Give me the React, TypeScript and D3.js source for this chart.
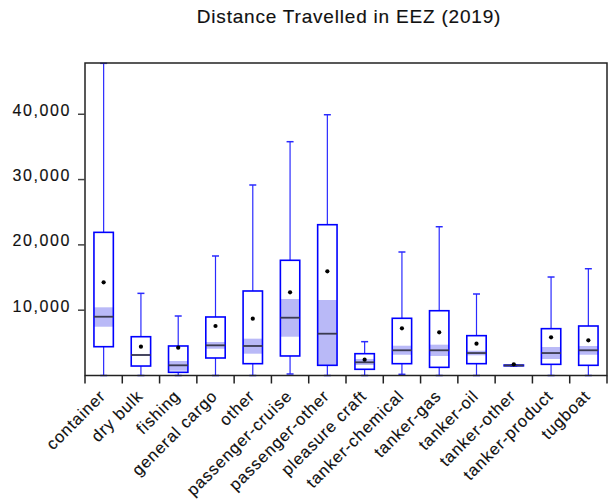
import React from "react";
import * as d3 from "d3";

// box plot stats (distance, EEZ 2019)
const categories = [
  "container", "dry bulk", "fishing", "general cargo", "other",
  "passenger-cruise", "passenger-other", "pleasure craft", "tanker-chemical",
  "tanker-gas", "tanker-oil", "tanker-other", "tanker-product", "tugboat",
];
const whiskerLow = [0, 0, 0, 0, 0, 230, 0, 0, 180, 0, 0, 1450, 0, 0];
const q1 = [4410, 1450, 490, 2680, 1810, 2990, 1560, 950, 1810, 1250, 1810, 1480, 1710, 1560];
const notchLow = [7470, 3000, 735, 4100, 3340, 5940, 1450, 1610, 3180, 2990, 3090, 1500, 2530, 3180];
const median = [9000, 3140, 1560, 4620, 4520, 8850, 6400, 2020, 3860, 3860, 3440, 1540, 3440, 3860];
const notchHigh = [10440, 3300, 2220, 5130, 5640, 11710, 11560, 2530, 4560, 4720, 3800, 1580, 4360, 4520];
const q3 = [21920, 5940, 4520, 8960, 12940, 17640, 23090, 3340, 8760, 9920, 6100, 1600, 7170, 7580];
const whiskerHigh = [47800, 12580, 9110, 18300, 29170, 35800, 39930, 5180, 18910, 22780, 12480, 1650, 15080, 16350];
const means = [14270, 4410, 4260, 7580, 8700, 12740, 15950, 2420, 7230, 6610, 4870, 1710, 5850, 5390];
const yTicks = [10000, 20000, 30000, 40000];

const W = 613, H = 499;
const left = 85, right = 607, top = 63, bottom = 375.5;

export default function App() {
  const x = d3.scaleBand().domain(categories).range([left, right]);
  const y = d3.scaleLinear().domain([0, 47850]).range([bottom, top]);
  const fmt = d3.format(",");
  const bw = x.bandwidth();
  const boxW = bw * 0.52;
  const capW = 7;
  const font = "'Liberation Sans', Arial, sans-serif";
  const ink = { fill: "#111", stroke: "#111", strokeWidth: 0.15 };

  return (
    <svg width={W} height={H} style={{ position: "absolute", left: 0, top: 0 }}
      fontFamily={font}>
      <rect width={W} height={H} fill="#fff" />
      <text x={349} y={23} textAnchor="middle" fontSize={19} letterSpacing={0.8} {...ink}>
        Distance Travelled in EEZ (2019)
      </text>

      {categories.map((c, i) => {
        const cx = x(c)! + bw / 2;
        const x0 = cx - boxW / 2;
        return (
          <g key={c}>
            {/* whiskers */}
            <line x1={cx} x2={cx} y1={y(whiskerHigh[i])} y2={y(q3[i])} stroke="#2a2aff" strokeWidth={1.2} />
            <line x1={cx} x2={cx} y1={y(q1[i])} y2={y(whiskerLow[i])} stroke="#2a2aff" strokeWidth={1.2} />
            <line x1={cx - capW / 2} x2={cx + capW / 2} y1={y(whiskerHigh[i])} y2={y(whiskerHigh[i])} stroke="#2a2aff" strokeWidth={1.5} />
            <line x1={cx - capW / 2} x2={cx + capW / 2} y1={y(whiskerLow[i])} y2={y(whiskerLow[i])} stroke="#2a2aff" strokeWidth={1.5} />
            {/* box */}
            <rect x={x0} width={boxW} y={y(q3[i])} height={y(q1[i]) - y(q3[i])} fill="#fff" />
            <rect x={x0} width={boxW} y={y(notchHigh[i])} height={y(notchLow[i]) - y(notchHigh[i])} fill="#b9b9f7" />
            <rect x={x0} width={boxW} y={y(q3[i])} height={y(q1[i]) - y(q3[i])} fill="none" stroke="#0000ff" strokeWidth={1.6} />
            <line x1={x0} x2={x0 + boxW} y1={y(median[i])} y2={y(median[i])} stroke="#3a3a50" strokeWidth={1.8} />
            <circle cx={cx} cy={y(means[i])} r={2.1} fill="#000" />
          </g>
        );
      })}

      {/* frame */}
      <rect x={left} y={top} width={right - left} height={bottom - top} fill="none" stroke="#222" strokeWidth={1.5} />

      {/* y axis */}
      {yTicks.map((t) => (
        <g key={t}>
          <line x1={left - 7} x2={left} y1={y(t)} y2={y(t)} stroke="#444" strokeWidth={1.5} />
          <text x={71} y={y(t) + 1.5} textAnchor="end" fontSize={16} letterSpacing={1.6} {...ink}>
            {fmt(t)}
          </text>
        </g>
      ))}

      {/* x axis ticks + labels */}
      {categories.map((c) => (
        <line key={"t" + c} x1={x(c)!} x2={x(c)!} y1={bottom} y2={bottom + 8} stroke="#222" strokeWidth={1.5} />
      ))}
      <line x1={right} x2={right} y1={bottom} y2={bottom + 8} stroke="#222" strokeWidth={1.5} />
      {categories.map((c) => {
        const cx = x(c)! + bw / 2 + 3;
        const ly = 397;
        return (
          <text key={"l" + c} x={cx} y={ly} textAnchor="end" fontSize={16.5} letterSpacing={0.9}
            {...ink} transform={`rotate(-45 ${cx} ${ly})`}>
            {c}
          </text>
        );
      })}
    </svg>
  );
}
